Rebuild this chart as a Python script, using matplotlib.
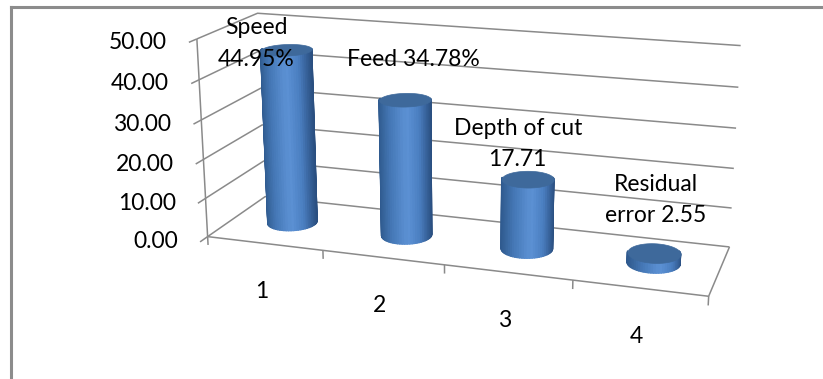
import numpy as np
import matplotlib
matplotlib.use("Agg")
import matplotlib.pyplot as plt
from matplotlib.lines import Line2D
from matplotlib.colors import LinearSegmentedColormap
from mpl_toolkits.mplot3d import proj3d
from mpl_toolkits.mplot3d.art3d import Poly3DCollection

# ---------------- data ----------------
categories = [1, 2, 3, 4]
cat_labels = ["1", "2", "3", "4"]
values = [44.95, 34.78, 17.71, 2.55]
point_labels = ["Speed\n44.95%", "Feed 34.78%", "Depth of cut\n17.71", "Residual\nerror 2.55"]
value_ticks = [0, 10, 20, 30, 40, 50]
value_tick_labels = ["0.00", "10.00", "20.00", "30.00", "40.00", "50.00"]

# ---------------- style / layout ----------------
plt.rcParams["font.family"] = ["Lato", "DejaVu Sans"]
FS = 16.5
GRID = "#8a8a8a"
CAP = "#3E699B"
body_cmap = LinearSegmentedColormap.from_list(
    "cyl", [(0.0, "#2F5A8E"), (0.25, "#4578B6"), (0.55, "#5C91D4"),
            (0.78, "#4A7EC0"), (1.0, "#2A4F80")])
label_offsets = [(-30, 6), (8, 40), (-10, 35), (2, 53)]   # pixels
W, H = 823, 379
S = 590
CX, CY = 458, 227
ELEV, AZIM, FL = 16.5, -72, 0.45
RADIUS = 0.2

fig = plt.figure(figsize=(W / 100, H / 100), dpi=100)
fig.patch.set_facecolor("white")

# chart-area border (left and top visible)
fig.add_artist(Line2D([11 / W, 11 / W], [0, 1 - 7 / H], color="#8c8c8c", lw=2.2))
fig.add_artist(Line2D([11 / W, 1], [1 - 7 / H, 1 - 7 / H], color="#8c8c8c", lw=2.2))

ax = fig.add_axes([(CX - S / 2) / W, (CY - S / 2) / H, S / W, S / H],
                  projection="3d", computed_zorder=False)
ax.set_axis_off()
ax.set_facecolor("none")
x0, x1 = categories[0] - 0.5, categories[-1] + 0.5
y0, y1 = 0.0, 1.0
zmax = value_ticks[-1]
ax.set_xlim(x0, x1)
ax.set_ylim(y0, y1)
ax.set_zlim(0, zmax)
ax.set_box_aspect((3.72, 0.98, 1.50), zoom=0.942)
ax.view_init(elev=ELEV, azim=AZIM)
ax.set_proj_type("persp", focal_length=FL)

gkw = dict(color=GRID, lw=1.1, zorder=1, solid_capstyle="butt")
# wall gridlines: left wall + back wall
for z in value_ticks:
    ax.plot([x0, x0, x1], [y0, y1, y1], [z, z, z], **gkw)
# value axis + ticks
ax.plot([x0, x0], [y0, y0], [0, zmax], **gkw)
for z in value_ticks:
    ax.plot([x0, x0], [y0, y0 - 0.12], [z, z], **gkw)
# floor front / right edges + category ticks
ax.plot([x0, x1, x1], [y0, y0, y1], [0, 0, 0], **gkw)
for xb in np.arange(x0, x1 + 0.01, 1.0):
    ax.plot([xb, xb], [y0, y0], [0, -2.2], **gkw)

# cylinders (only the half that faces the viewer, then the top cap)
az = np.deg2rad(AZIM)
n = 64
t = np.linspace(0, 2 * np.pi, n + 1)
yc = (y0 + y1) / 2
for i, (c, v) in enumerate(zip(categories, values)):
    polys, cols = [], []
    for k in range(n):
        ta, tb = t[k], t[k + 1]
        phi = (ta + tb) / 2 - az
        if np.cos(phi) < -0.2:
            continue
        xa, ya = c + RADIUS * np.cos(ta), yc + RADIUS * np.sin(ta)
        xb_, yb = c + RADIUS * np.cos(tb), yc + RADIUS * np.sin(tb)
        polys.append([(xa, ya, 0), (xb_, yb, 0), (xb_, yb, v), (xa, ya, v)])
        s = (np.sin(phi) + 1) / 2
        cols.append(body_cmap(s))
    body = Poly3DCollection(polys, facecolors=cols, edgecolors=cols, linewidths=0.9,
                            antialiased=True, zorder=10 + i)
    ax.add_collection3d(body)
    cap = [(c + RADIUS * np.cos(tt), yc + RADIUS * np.sin(tt), v) for tt in t]
    capc = Poly3DCollection([cap], facecolors=CAP, edgecolors=CAP, linewidths=0.5, zorder=11 + i)
    ax.add_collection3d(capc)

# ---- texts: project 3D anchor points to the 2D plane, then annotate ----
fig.canvas.draw()
M = ax.get_proj()


def proj(x, y, z):
    px, py, _ = proj3d.proj_transform(x, y, z, M)
    return float(px), float(py)


for z, lab in zip(value_ticks, value_tick_labels):
    ax.annotate(lab, xy=proj(x0, y0 - 0.12, z), xycoords="data", xytext=(-22, 0),
                textcoords="offset pixels", ha="right", va="center", fontsize=FS,
                annotation_clip=False)
for c, lab in zip(categories, cat_labels):
    ax.annotate(lab, xy=proj(c, y0, 0), xycoords="data", xytext=(-3, -48),
                textcoords="offset pixels", ha="center", va="center", fontsize=FS,
                annotation_clip=False)
for (c, v, lab), (dx, dy) in zip(zip(categories, values, point_labels), label_offsets):
    ax.annotate(lab, xy=proj(c, yc, v), xycoords="data", xytext=(dx, dy),
                textcoords="offset pixels", ha="center", va="center", fontsize=FS,
                linespacing=1.62, multialignment="center", annotation_clip=False,
                zorder=30)

fig.savefig("out.png", dpi=100)
